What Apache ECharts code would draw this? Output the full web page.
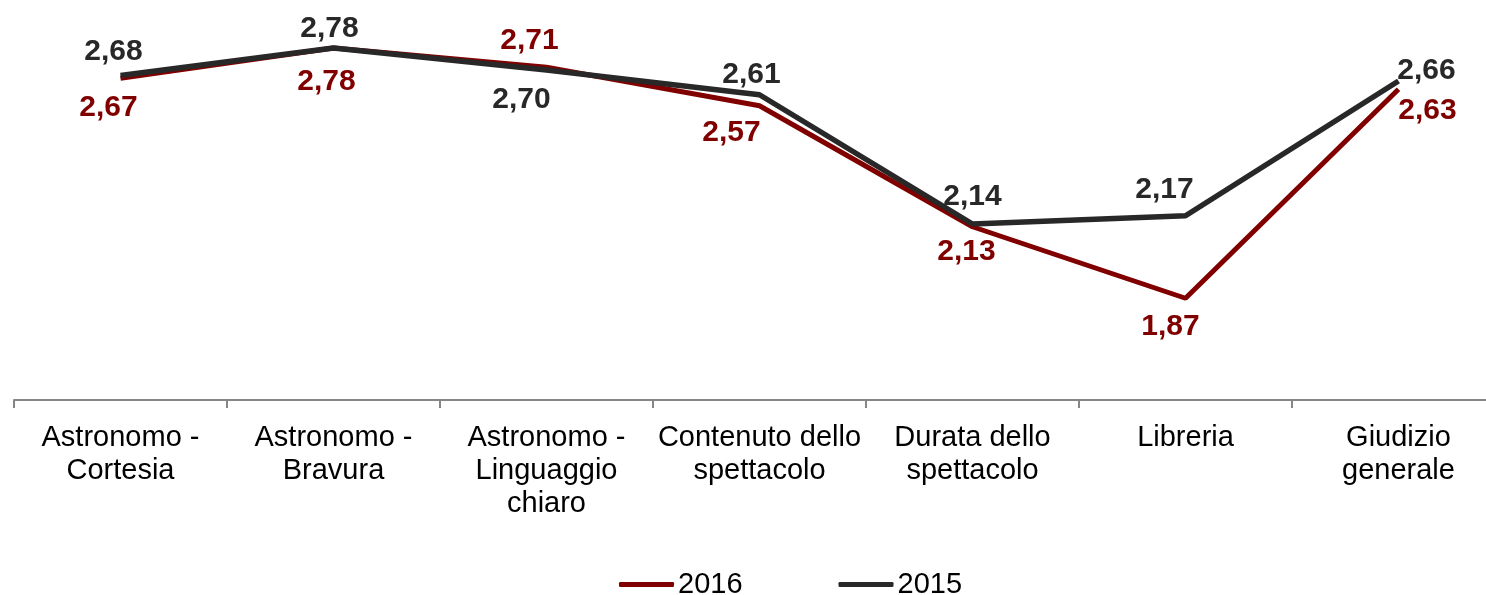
<!DOCTYPE html>
<html>
<head>
<meta charset="utf-8">
<script src="https://cdn.jsdelivr.net/npm/echarts@6/dist/echarts.min.js"></script>
<style>
  html, body { margin: 0; padding: 0; background: #fff; overflow: hidden; }
  /* plot area runs past the right edge in the original, so the canvas is a bit wider than the window */
  #chart { width: 1505px; height: 595px; }
</style>
</head>
<body>
<div id="chart"></div>
<script>
var categories = ['Astronomo -\nCortesia', 'Astronomo -\nBravura', 'Astronomo -\nLinguaggio\nchiaro',
    'Contenuto dello\nspettacolo', 'Durata dello\nspettacolo', 'Libreria', 'Giudizio\ngenerale'];
var values2016 = [2.67, 2.78, 2.71, 2.57, 2.13, 1.87, 2.63];
var values2015 = [2.68, 2.78, 2.70, 2.61, 2.14, 2.17, 2.66];

// label offsets (px) from each point
var offsets2016 = [[-12, 29], [-7, 34], [-17, -27], [-28, 27], [-6, 25], [-15, 28], [29, 21]];
var offsets2015 = [[-7, -24], [-4, -19], [-25, 30], [-8, -20], [0, -27], [-21, -26], [28, -10]];

var font = "'Liberation Sans', Arial, sans-serif";

function makeSeries(name, color, width, values, offsets) {
    return {
        name: name,
        type: 'line',
        data: values,
        symbol: 'circle',
        symbolSize: 0.1,
        itemStyle: { color: color },
        lineStyle: { color: color, width: width },
        label: {
            show: true,
            position: 'inside',
            align: 'center',
            verticalAlign: 'middle',
            color: color,
            fontFamily: font,
            fontWeight: 'bold',
            fontSize: 30,
            formatter: function (p) { return p.value.toFixed(2).replace('.', ','); }
        },
        labelLayout: function (p) {
            var o = offsets[p.dataIndex];
            return { dx: o[0], dy: o[1], hideOverlap: false };
        },
        emphasis: { disabled: true },
        animation: false
    };
}

var chart = echarts.init(document.getElementById('chart'));
var option = {
    backgroundColor: '#fff',
    grid: { left: 14, right: 0, top: 15, bottom: 195 },
    legend: {
        data: ['2016', '2015'],
        left: 614,
        top: 565,
        icon: 'roundRect',
        itemWidth: 55,
        itemHeight: 5,
        itemGap: 96,
        textStyle: { fontFamily: font, fontSize: 29, color: '#000', padding: [0, 0, 0, -1] }
    },
    xAxis: {
        type: 'category',
        data: categories,
        boundaryGap: true,
        axisLine: { lineStyle: { color: '#868686', width: 2 } },
        axisTick: { show: true, length: 8, lineStyle: { color: '#868686', width: 2 } },
        axisLabel: {
            interval: 0,
            margin: 21,
            color: '#000',
            fontFamily: font,
            fontSize: 29,
            lineHeight: 33
        }
    },
    yAxis: {
        type: 'value',
        min: 1.5,
        max: 2.9,
        show: false,
        splitLine: { show: false }
    },
    series: [
        makeSeries('2016', '#800000', 5, values2016, offsets2016),
        makeSeries('2015', '#282828', 5.5, values2015, offsets2015)
    ]
};
chart.setOption(option);
</script>
</body>
</html>
